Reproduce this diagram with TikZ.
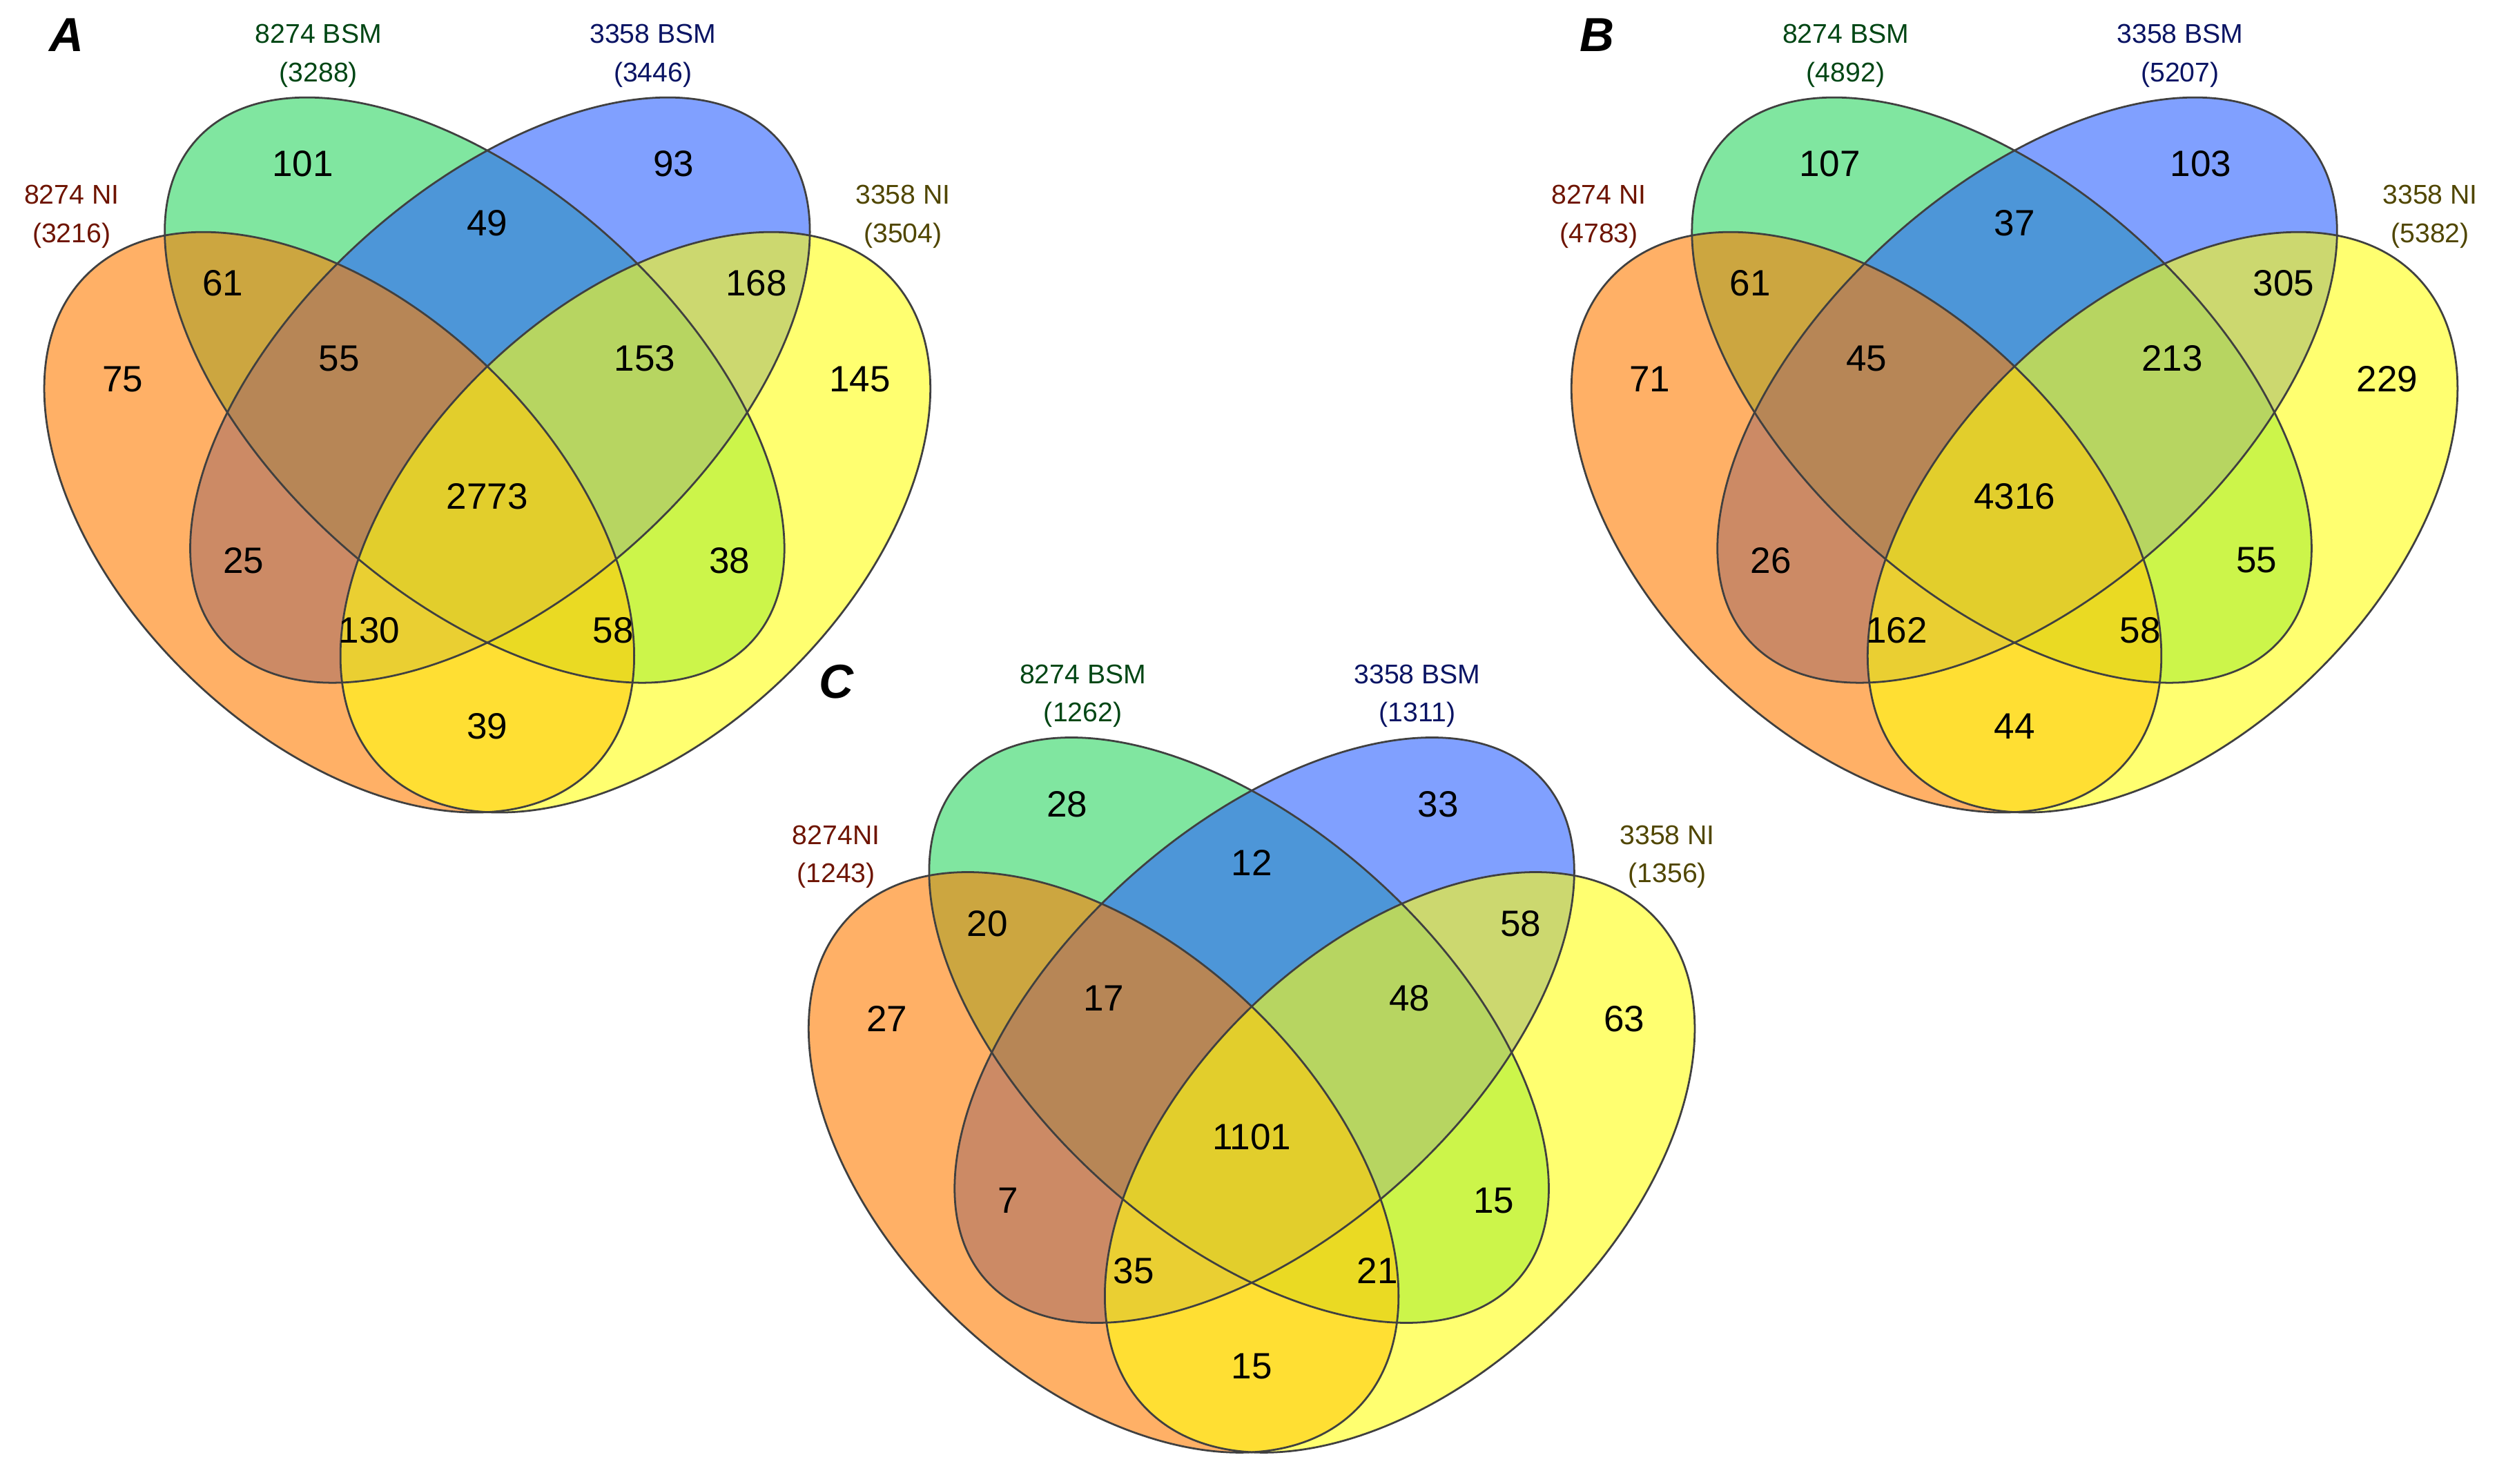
\documentclass[tikz,border=0pt]{standalone}
\usepackage{fontspec}
\setmainfont{Liberation Sans}
\definecolor{cO}{RGB}{255,124,0}
\definecolor{cG}{RGB}{43,213,97}
\definecolor{cB}{RGB}{43,97,255}
\definecolor{cY}{RGB}{255,255,17}
\definecolor{tG}{RGB}{0,70,20}
\definecolor{tB}{RGB}{10,20,100}
\definecolor{tR}{RGB}{110,20,0}
\definecolor{tY}{RGB}{80,70,0}
\tikzset{
 ell/.style={fill opacity=0.6},
 edge/.style={draw=black!75, line width=0.6pt},
 num/.style={font=\fontsize{11.5}{13}\selectfont, inner sep=0pt},
 lab/.style={font=\fontsize{8.5}{10}\selectfont, align=center, inner sep=0pt},
 pan/.style={font=\fontsize{15}{17}\selectfont\bfseries\itshape, inner sep=0pt}
}
\newcommand\myellipses{%
 \fill[ell,cG,rotate around={-42:(298,245)}] (298,245) ellipse [x radius=235, y radius=128];
 \fill[ell,cB,rotate around={42:(314,245)}] (314,245) ellipse [x radius=235, y radius=128];
 \fill[ell,cO,rotate around={-44:(213,328)}] (213,328) ellipse [x radius=222, y radius=135];
 \fill[ell,cY,rotate around={44:(399,328)}] (399,328) ellipse [x radius=222, y radius=135];
 \draw[edge,rotate around={-42:(298,245)}] (298,245) ellipse [x radius=235, y radius=128];
 \draw[edge,rotate around={42:(314,245)}] (314,245) ellipse [x radius=235, y radius=128];
 \draw[edge,rotate around={-44:(213,328)}] (213,328) ellipse [x radius=222, y radius=135];
 \draw[edge,rotate around={44:(399,328)}] (399,328) ellipse [x radius=222, y radius=135];
}
\newcommand\numsA[9]{%
 \node[num] (#1a) at (190,103) {#2};
 \node[num] (#1b) at (423,103) {#3};
 \node[num] (#1c) at (140,178) {#4};
 \node[num] (#1d) at (306,140) {#5};
 \node[num] (#1e) at (475,178) {#6};
 \node[num] (#1f) at (77,238) {#7};
 \node[num] (#1g) at (213,225) {#8};
 \node[num] (#1h) at (405,225) {#9};
}
\newcommand\numsB[8]{%
 \node[num] (#1i) at (540,238) {#2};
 \node[num] (#1j) at (306,312) {#3};
 \node[num] (#1k) at (153,352) {#4};
 \node[num] (#1l) at (458,352) {#5};
 \node[num] (#1m) at (232,396) {#6};
 \node[num] (#1n) at (385,396) {#7};
 \node[num] (#1o) at (306,456) {#8};
}
\newcommand\labs[5]{%
 \node[lab,tG] (#1G) at (200,35) {8274 BSM\\[2pt](#2)};
 \node[lab,tB] (#1B) at (410,35) {3358 BSM\\[2pt](#3)};
 \node[lab,tR] (#1O) at (45,136) {#5\\[2pt](#4)};
}
\begin{document}
\begin{tikzpicture}[x=0.5pt,y=-0.5pt]
\useasboundingbox (0,0) rectangle (1568,932);
\begin{scope}
 \myellipses
 \numsA{A}{101}{93}{61}{49}{168}{75}{55}{153}
 \numsB{A}{145}{2773}{25}{38}{130}{58}{39}
 \labs{A}{3288}{3446}{3216}{8274 NI}
 \node[lab,tY] (AY) at (567,136) {3358 NI\\[2pt](3504)};
 \node[pan] (Alab) at (42,22) {A};
\end{scope}
\begin{scope}[shift={(959,0)}]
 \myellipses
 \numsA{B}{107}{103}{61}{37}{305}{71}{45}{213}
 \numsB{B}{229}{4316}{26}{55}{162}{58}{44}
 \labs{B}{4892}{5207}{4783}{8274 NI}
 \node[lab,tY] (BY) at (567,136) {3358 NI\\[2pt](5382)};
 \node[pan] (Blab) at (44,22) {B};
\end{scope}
\begin{scope}[shift={(480,402)}]
 \myellipses
 \numsA{C}{28}{33}{20}{12}{58}{27}{17}{48}
 \numsB{C}{63}{1101}{7}{15}{35}{21}{15}
 \labs{C}{1262}{1311}{1243}{8274NI}
 \node[lab,tY] (CY) at (567,136) {3358 NI\\[2pt](1356)};
 \node[pan] (Clab) at (45,26) {C};
\end{scope}
\end{tikzpicture}
\end{document}
